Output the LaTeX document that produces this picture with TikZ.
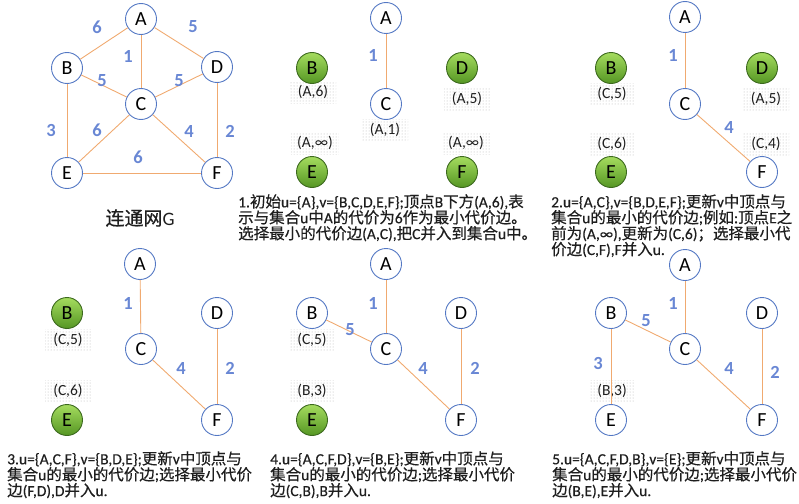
\documentclass[tikz,border=0pt]{standalone}
\usepackage{fontspec}
\setmainfont{Carlito}
\newfontfamily\cjkfont[FakeBold=0.5]{Noto Sans CJK SC}
\newfontfamily\parafont[FakeBold=0.4]{Carlito}
\usetikzlibrary{patterns}
\makeatletter
\XeTeXinterchartokenstate=1
\newXeTeXintercharclass\CJKcls
\def\setcjkrange#1#2{\@tempcnta=#1\relax
  \loop\XeTeXcharclass\@tempcnta=\CJKcls\relax
  \ifnum\@tempcnta<#2\relax\advance\@tempcnta by 1\relax\repeat}
\setcjkrange{"3000}{"303F}
\setcjkrange{"4E00}{"9FFF}
\setcjkrange{"FF00}{"FFEF}
\XeTeXinterchartoks 0 \CJKcls={\begingroup\cjkfont}
\XeTeXinterchartoks 4095 \CJKcls={\begingroup\cjkfont}
\XeTeXinterchartoks \CJKcls 0={\endgroup}
\XeTeXinterchartoks \CJKcls 4095={\endgroup}
\makeatother
\definecolor{nodeblue}{RGB}{84,120,196}
\definecolor{edgeorange}{RGB}{240,170,112}
\definecolor{wtblue}{RGB}{105,135,212}
\definecolor{gtop}{RGB}{165,220,95}
\definecolor{gbot}{RGB}{85,150,35}
\definecolor{gborder}{RGB}{60,105,30}
\definecolor{txt}{RGB}{30,30,30}
\tikzset{
  vtx/.style={circle, draw=nodeblue, fill=white, line width=0.9pt, minimum size=31pt,
    inner sep=0pt, text=black, font=\fontsize{20}{20}\selectfont},
  gvtx/.style={vtx, draw=gborder, top color=gtop, bottom color=gbot},
  edg/.style={draw=edgeorange, line width=0.9pt},
  wt/.style={text=wtblue, inner sep=0pt, font=\bfseries\fontsize{18.5}{18.5}\selectfont},
  lbl/.style={pattern=dots, pattern color=gray!60, minimum width=46pt, minimum height=22pt,
    inner xsep=6pt, inner ysep=1pt, text=txt, font=\fontsize{15.5}{15.5}\selectfont},
  para/.style={anchor=north west, align=left, inner sep=0pt, text=txt,
    font=\parafont\fontsize{15.5}{15.9}\selectfont},
}
\begin{document}
\begin{tikzpicture}[x=1pt,y=-1pt]
\path[use as bounding box] (0,0) rectangle (799,503);

% ---------- Graph G ----------
\node[vtx] (g-A) at (141,19) {A};
\node[vtx] (g-B) at (67,68) {B};
\node[vtx] (g-C) at (141,104) {C};
\node[vtx] (g-D) at (217,67) {D};
\node[vtx] (g-E) at (67,173) {E};
\node[vtx] (g-F) at (217,173) {F};
\draw[edg] (g-A) -- (g-B);
\draw[edg] (g-A) -- (g-C);
\draw[edg] (g-A) -- (g-D);
\draw[edg] (g-B) -- (g-C);
\draw[edg] (g-C) -- (g-D);
\draw[edg] (g-B) -- (g-E);
\draw[edg] (g-C) -- (g-E);
\draw[edg] (g-C) -- (g-F);
\draw[edg] (g-D) -- (g-F);
\draw[edg] (g-E) -- (g-F);
\node[wt] (g-wAB) at (97,27) {6};
\node[wt] (g-wAD) at (193,27) {5};
\node[wt] (g-wAC) at (128,56) {1};
\node[wt] (g-wBC) at (102,81) {5};
\node[wt] (g-wCD) at (179,81) {5};
\node[wt] (g-wBE) at (51,130) {3};
\node[wt] (g-wCE) at (97,130) {6};
\node[wt] (g-wCF) at (189,131) {4};
\node[wt] (g-wDF) at (230,131) {2};
\node[wt] (g-wEF) at (138,157) {6};
\node[text=txt, inner sep=0pt, font=\fontsize{19}{19}\selectfont] (g-title) at (140,218) {连通网G};

% ---------- Panel 1 ----------
\node[lbl] (p1-lB) at (313,92) {(A,6)};
\node[lbl] (p1-lD) at (467,99) {(A,5)};
\node[lbl] (p1-lC) at (385,130) {(A,1)};
\node[lbl] (p1-lE) at (315,143) {(A,∞)};
\node[lbl] (p1-lF) at (466,143) {(A,∞)};
\node[vtx] (p1-A) at (386,18) {A};
\node[gvtx] (p1-B) at (312,68) {B};
\node[vtx] (p1-C) at (386,104) {C};
\node[gvtx] (p1-D) at (462,68) {D};
\node[gvtx] (p1-E) at (312,172) {E};
\node[gvtx] (p1-F) at (462,172) {F};
\draw[edg] (p1-A) -- (p1-C);
\node[wt] (p1-wAC) at (373,55) {1};
\node[para] (p1-txt) at (238,194) {1.初始u=\{A\},v=\{B,C,D,E,F\};顶点B下方(A,6),表\\示与集合u中A的代价为6作为最小代价边。\\选择最小的代价边(A,C),把C并入到集合u中。};

% ---------- Panel 2 ----------
\node[lbl] (p2-lB) at (612,94) {(C,5)};
\node[lbl] (p2-lD) at (766,99) {(A,5)};
\node[lbl] (p2-lE) at (612,144) {(C,6)};
\node[lbl] (p2-lF) at (766,144) {(C,4)};
\node[vtx] (p2-A) at (685,17) {A};
\node[gvtx] (p2-B) at (611,68) {B};
\node[vtx] (p2-C) at (685,104) {C};
\node[gvtx] (p2-D) at (762,68) {D};
\node[gvtx] (p2-E) at (611,172) {E};
\node[vtx] (p2-F) at (762,172) {F};
\draw[edg] (p2-A) -- (p2-C);
\draw[edg] (p2-C) -- (p2-F);
\node[wt] (p2-wAC) at (673,55) {1};
\node[wt] (p2-wCF) at (729,127) {4};
\node[para] (p2-txt) at (551,194) {2.u=\{A,C\},v=\{B,D,E,F\};更新v中顶点与\\集合u的最小的代价边;例如:顶点E之\\前为(A,∞),更新为(C,6)；选择最小代\\价边(C,F),F并入u.};

% ---------- Panel 3 ----------
\node[lbl] (p3-lB) at (68,340) {(C,5)};
\node[lbl] (p3-lE) at (68,391) {(C,6)};
\node[vtx] (p3-A) at (140,264) {A};
\node[gvtx] (p3-B) at (67,313) {B};
\node[vtx] (p3-C) at (141,349) {C};
\node[vtx] (p3-D) at (217,313) {D};
\node[gvtx] (p3-E) at (67,420) {E};
\node[vtx] (p3-F) at (217,420) {F};
\draw[edg] (p3-A) -- (p3-C);
\draw[edg] (p3-C) -- (p3-F);
\draw[edg] (p3-D) -- (p3-F);
\node[wt] (p3-wAC) at (128,303) {1};
\node[wt] (p3-wCF) at (181,368) {4};
\node[wt] (p3-wDF) at (230,368) {2};
\node[para] (p3-txt) at (7,451) {3.u=\{A,C,F\},v=\{B,D,E\};更新v中顶点与\\集合u的最小的代价边;选择最小代价\\边(F,D),D并入u.};

% ---------- Panel 4 ----------
\node[lbl] (p4-lB) at (312,340) {(C,5)};
\node[lbl] (p4-lE) at (312,391) {(B,3)};
\node[vtx] (p4-A) at (386,264) {A};
\node[vtx] (p4-B) at (312,313) {B};
\node[vtx] (p4-C) at (386,349) {C};
\node[vtx] (p4-D) at (461,313) {D};
\node[gvtx] (p4-E) at (312,420) {E};
\node[vtx] (p4-F) at (461,420) {F};
\draw[edg] (p4-A) -- (p4-C);
\draw[edg] (p4-B) -- (p4-C);
\draw[edg] (p4-C) -- (p4-F);
\draw[edg] (p4-D) -- (p4-F);
\node[wt] (p4-wAC) at (373,303) {1};
\node[wt] (p4-wBC) at (350,330) {5};
\node[wt] (p4-wCF) at (423,368) {4};
\node[wt] (p4-wDF) at (475,368) {2};
\node[para] (p4-txt) at (270,451) {4.u=\{A,C,F,D\},v=\{B,E\};更新v中顶点与\\集合u的最小的代价边;选择最小代价\\边(C,B),B并入u.};

% ---------- Panel 5 ----------
\node[lbl] (p5-lE) at (612,391) {(B,3)};
\node[vtx] (p5-A) at (685,265) {A};
\node[vtx] (p5-B) at (611,313) {B};
\node[vtx] (p5-C) at (685,349) {C};
\node[vtx] (p5-D) at (762,313) {D};
\node[vtx] (p5-E) at (611,420) {E};
\node[vtx] (p5-F) at (762,420) {F};
\draw[edg] (p5-A) -- (p5-C);
\draw[edg] (p5-B) -- (p5-C);
\draw[edg] (p5-C) -- (p5-F);
\draw[edg] (p5-D) -- (p5-F);
\draw[edg] (p5-B) -- (p5-E);
\node[wt] (p5-wAC) at (673,303) {1};
\node[wt] (p5-wBC) at (646,321) {5};
\node[wt] (p5-wBE) at (598,363) {3};
\node[wt] (p5-wCF) at (729,368) {4};
\node[wt] (p5-wDF) at (775,372) {2};
\node[para] (p5-txt) at (552,451) {5.u=\{A,C,F,D,B\},v=\{E\};更新v中顶点与\\集合u的最小的代价边;选择最小代价\\边(B,E),E并入u.};
\end{tikzpicture}
\end{document}
